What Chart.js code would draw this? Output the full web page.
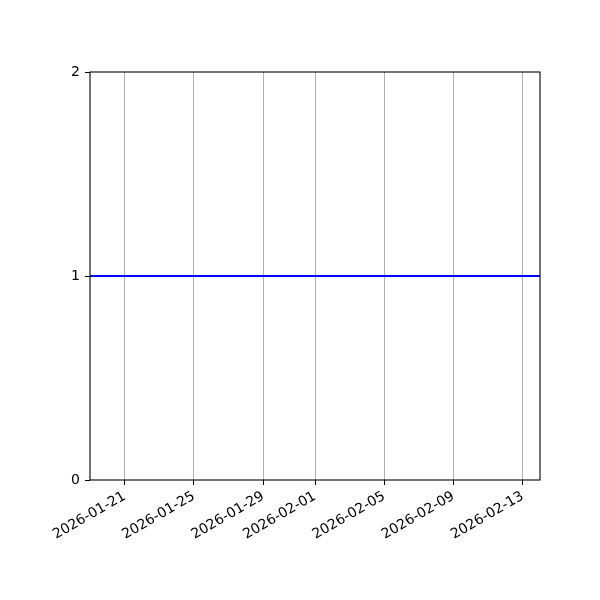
<!DOCTYPE html>
<html lang="en">
<head>
    <meta charset="UTF-8">
    <title>Daily value</title>
    <style>
        html, body { margin: 0; padding: 0; background: #fff; }
        canvas { display: block; }
    </style>
</head>
<body>
    <canvas id="chart" width="600" height="600"></canvas>

    <script src="https://cdn.jsdelivr.net/npm/chart.js"></script>
    <script>
        // data
        const dates = [
            '2026-01-19', '2026-01-20', '2026-01-21', '2026-01-22', '2026-01-23', '2026-01-24',
            '2026-01-25', '2026-01-26', '2026-01-27', '2026-01-28', '2026-01-29', '2026-01-30',
            '2026-01-31', '2026-02-01', '2026-02-02', '2026-02-03', '2026-02-04', '2026-02-05',
            '2026-02-06', '2026-02-07', '2026-02-08', '2026-02-09', '2026-02-10', '2026-02-11',
            '2026-02-12', '2026-02-13', '2026-02-14'
        ];
        const values = [1, 1, 1, 1, 1, 1, 1, 1, 1, 1, 1, 1, 1, 1, 1, 1, 1, 1, 1, 1, 1, 1, 1, 1, 1, 1, 1];
        const xTickLabels = ['2026-01-21', '2026-01-25', '2026-01-29', '2026-02-01', '2026-02-05', '2026-02-09', '2026-02-13'];
        const yTicks = [0, 1, 2];

        const DAY = 86400000;
        function toDay(s) {
            return Date.parse(s + 'T00:00:00Z') / DAY;
        }
        function fromDay(d) {
            return new Date(Math.round(d) * DAY).toISOString().slice(0, 10);
        }

        const points = dates.map((d, i) => ({ x: toDay(d), y: values[i] }));

        // matplotlib draws the box on all four sides
        const frame = {
            id: 'frame',
            afterDatasetsDraw(chart) {
                const a = chart.chartArea;
                const ctx = chart.ctx;
                ctx.save();
                ctx.strokeStyle = '#000';
                ctx.lineWidth = 1.1;
                ctx.strokeRect(a.left, a.top, a.right - a.left, a.bottom - a.top);
                ctx.restore();
            }
        };

        Chart.defaults.font.family = "'DejaVu Sans', sans-serif";
        Chart.defaults.font.size = 14;
        Chart.defaults.color = '#000';

        new Chart(document.getElementById('chart').getContext('2d'), {
            type: 'line',
            data: {
                datasets: [{
                    data: points,
                    borderColor: '#0000ff',
                    borderWidth: 2,
                    pointRadius: 0,
                    tension: 0,
                    clip: false
                }]
            },
            options: {
                responsive: false,
                animation: false,
                layout: { padding: { left: 0, top: 72, right: 60, bottom: 0 } },
                plugins: {
                    legend: { display: false },
                    tooltip: { enabled: false }
                },
                scales: {
                    x: {
                        type: 'linear',
                        min: toDay(dates[0]),
                        max: toDay(dates[dates.length - 1]),
                        afterBuildTicks(scale) {
                            scale.ticks = xTickLabels.map(s => ({ value: toDay(s) }));
                        },
                        afterFit(scale) { scale.height = 120; },
                        ticks: {
                            callback: v => fromDay(v),
                            minRotation: 30,
                            maxRotation: 30,
                            autoSkip: false,
                            padding: 3
                        },
                        grid: {
                            color: '#b0b0b0',
                            lineWidth: 1,
                            tickColor: '#000',
                            tickLength: 5
                        },
                        border: { display: false }
                    },
                    y: {
                        min: 0,
                        max: 2,
                        afterBuildTicks(scale) {
                            scale.ticks = yTicks.map(v => ({ value: v }));
                        },
                        afterFit(scale) { scale.width = 90; },
                        ticks: { padding: 5 },
                        grid: {
                            drawOnChartArea: false,
                            tickColor: '#000',
                            tickLength: 5
                        },
                        border: { display: false }
                    }
                }
            },
            plugins: [frame]
        });
    </script>
</body>
</html>
